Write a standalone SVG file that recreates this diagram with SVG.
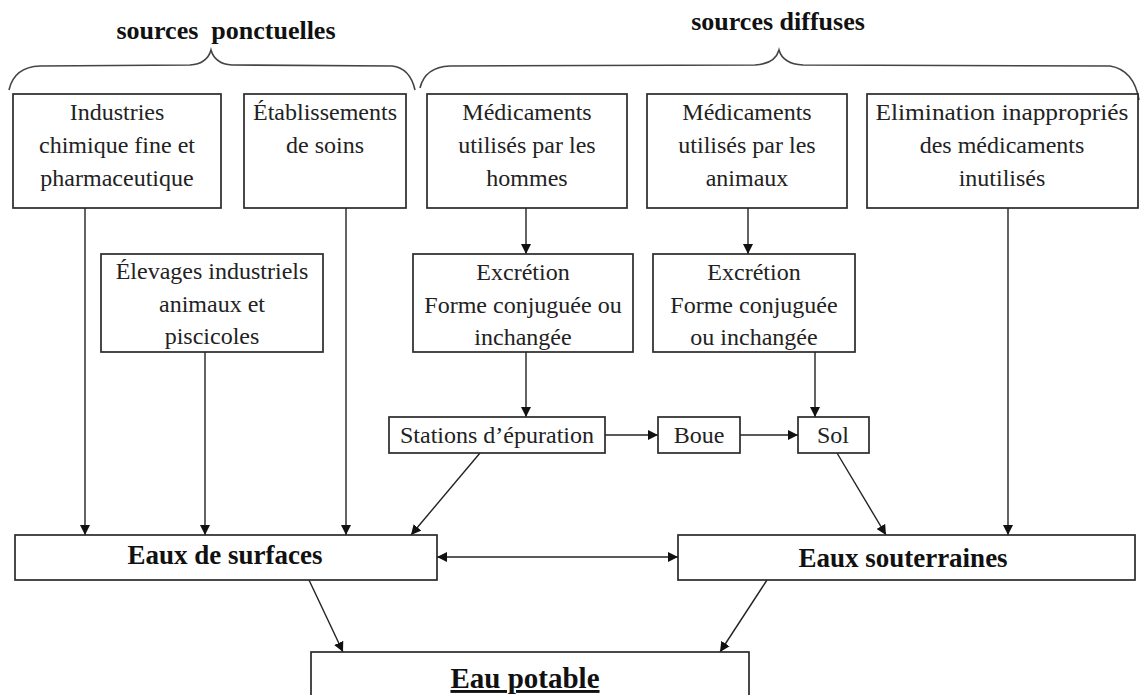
<svg xmlns="http://www.w3.org/2000/svg" width="1140" height="695" viewBox="0 0 1140 695">
<style>
.box{fill:#fff;stroke:#2a2a2a;stroke-width:1.7}
text{font-family:"Liberation Serif","DejaVu Serif",serif}
.t{font-size:24px;fill:#222;text-anchor:middle}
.b{font-weight:bold;fill:#111;text-anchor:middle}
.a{fill:none;stroke:#222;stroke-width:1.4;marker-end:url(#ah)}
.br{fill:none;stroke:#444;stroke-width:1.6}
</style>
<defs>
<marker id="ah" viewBox="0 0 10 10" refX="10" refY="5" markerWidth="10" markerHeight="10" markerUnits="userSpaceOnUse" orient="auto-start-reverse">
<path d="M0,0 L10,5 L0,10 z" fill="#111"/>
</marker>
</defs>
<rect width="1140" height="695" fill="#fff"/>

<g id="titles">
<text class="b" x="226" y="39" font-size="26" xml:space="preserve">sources  ponctuelles</text>
<text class="b" x="778" y="30" font-size="26">sources diffuses</text>
<path class="br" d="M9,90 Q14,67 40,66 L190,65 Q207,64 211,50 Q215,64 232,65 L392,66 Q410,68 415,90"/>
<path class="br" d="M420,88 Q425,67 450,66 L755,65 Q775,64 779,50 Q783,64 803,65 L1110,66 Q1134,70 1139,100"/>
</g>

<g id="connectors">
<line class="a" x1="85" y1="208" x2="85" y2="535"/>
<line class="a" x1="205" y1="352" x2="205" y2="535"/>
<line class="a" x1="346" y1="208" x2="346" y2="535"/>
<line class="a" x1="480" y1="453" x2="411" y2="535"/>
<line class="a" x1="526" y1="208" x2="526" y2="254"/>
<line class="a" x1="526" y1="352" x2="526" y2="417"/>
<line class="a" x1="748" y1="208" x2="748" y2="254"/>
<line class="a" x1="815" y1="352" x2="815" y2="417"/>
<line class="a" x1="605" y1="435" x2="658" y2="435"/>
<line class="a" x1="740" y1="435" x2="798" y2="435"/>
<line class="a" x1="837" y1="453" x2="886" y2="535"/>
<line class="a" x1="1008" y1="208" x2="1008" y2="535"/>
<line class="a" x1="437" y1="557" x2="678" y2="557" style="marker-start:url(#ah)"/>
<line class="a" x1="309" y1="580" x2="343" y2="652"/>
<line class="a" x1="767" y1="580" x2="720" y2="652"/>
</g>

<g id="n1"><rect class="box" x="13" y="94" width="208" height="114"/>
<text class="t" x="117" y="120">Industries</text><text class="t" x="117" y="153">chimique fine et</text><text class="t" x="117" y="186">pharmaceutique</text></g>
<g id="n2"><rect class="box" x="244" y="94" width="162" height="114"/>
<text class="t" x="325" y="120">Établissements</text><text class="t" x="325" y="153">de soins</text></g>
<g id="n3"><rect class="box" x="427" y="94" width="200" height="114"/>
<text class="t" x="527" y="120">Médicaments</text><text class="t" x="527" y="153">utilisés par les</text><text class="t" x="527" y="186">hommes</text></g>
<g id="n4"><rect class="box" x="647" y="94" width="200" height="114"/>
<text class="t" x="747" y="120">Médicaments</text><text class="t" x="747" y="153">utilisés par les</text><text class="t" x="747" y="186">animaux</text></g>
<g id="n5"><rect class="box" x="867" y="94" width="271" height="114"/>
<text class="t" x="1002" y="120" textLength="253" lengthAdjust="spacingAndGlyphs">Elimination inappropriés</text><text class="t" x="1002" y="153">des médicaments</text><text class="t" x="1002" y="186">inutilisés</text></g>

<g id="n6"><rect class="box" x="101" y="254" width="222" height="98"/>
<text class="t" x="212" y="279">Élevages industriels</text><text class="t" x="212" y="312">animaux et</text><text class="t" x="212" y="344">piscicoles</text></g>
<g id="n7"><rect class="box" x="413" y="254" width="220" height="98"/>
<text class="t" x="523" y="280">Excrétion</text><text class="t" x="523" y="313">Forme conjuguée ou</text><text class="t" x="523" y="345">inchangée</text></g>
<g id="n8"><rect class="box" x="653" y="254" width="202" height="98"/>
<text class="t" x="754" y="280">Excrétion</text><text class="t" x="754" y="313">Forme conjuguée</text><text class="t" x="754" y="345">ou inchangée</text></g>

<g id="n9"><rect class="box" x="389" y="417" width="216" height="36"/>
<text class="t" x="497" y="443">Stations d’épuration</text></g>
<g id="n10"><rect class="box" x="658" y="417" width="82" height="36"/>
<text class="t" x="699" y="443">Boue</text></g>
<g id="n11"><rect class="box" x="798" y="417" width="71" height="36"/>
<text class="t" x="833" y="443">Sol</text></g>

<g id="n12"><rect class="box" x="15" y="535" width="422" height="45"/>
<text class="b" x="225" y="564" font-size="27">Eaux de surfaces</text></g>
<g id="n13"><rect class="box" x="678" y="535" width="457" height="45"/>
<text class="b" x="903" y="567" font-size="27">Eaux souterraines</text></g>
<g id="n14"><rect class="box" x="311" y="652" width="438" height="60"/>
<text class="b" x="525" y="688" font-size="29" text-decoration="underline">Eau potable</text></g>
</svg>
